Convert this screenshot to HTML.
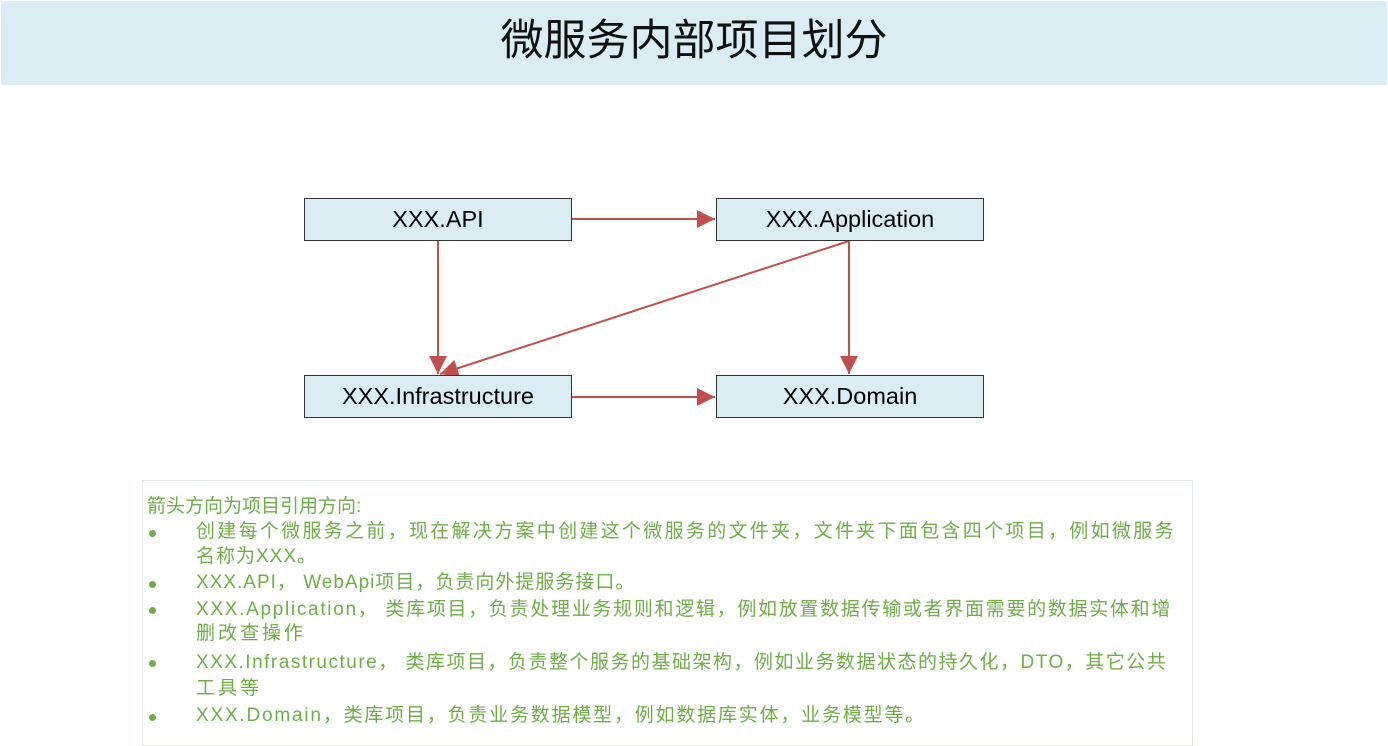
<!DOCTYPE html>
<html><head><meta charset="utf-8"><style>
body{margin:0;width:1388px;height:746px;background:#fff;position:relative;overflow:hidden;font-family:"Liberation Sans","Noto Sans CJK SC",sans-serif}
.hdr{position:absolute;left:1px;top:1px;width:1386px;height:84px;background:#daedf3}
.title{position:absolute;left:0;width:1388px;top:13px;text-align:center;font-size:43px;color:#111;line-height:56px}
.box{position:absolute;width:266px;height:41px;background:#daedf3;border:1px solid #333;text-align:center;font-size:23.5px;line-height:41px;color:#000}
.tb{position:absolute;left:142px;top:480px;width:1049px;height:264px;border:1px solid #e2e8e2}
.l{position:absolute;white-space:nowrap;font-size:19px;letter-spacing:3px;color:#70ad47;line-height:24px}
.b{position:absolute;left:149px;width:7px;height:7px;border-radius:50%;background:#70ad47}
</style></head><body>
<div class="hdr"></div>
<div class="title">微服务内部项目划分</div>
<svg width="1388" height="746" style="position:absolute;left:0;top:0">
<defs>
<marker id="m" viewBox="0 0 10 10" refX="10" refY="5" markerWidth="24" markerHeight="18" orient="auto" markerUnits="userSpaceOnUse"><path d="M0,0L10,5L0,10z" fill="#c0504d"/></marker></defs>
<g stroke="#c0504d" stroke-width="2" fill="none">
<line x1="572" y1="219" x2="715" y2="219" marker-end="url(#m)"/>
<line x1="438" y1="241" x2="438" y2="374" marker-end="url(#m)"/>
<line x1="849" y1="241" x2="849" y2="374" marker-end="url(#m)"/>
<line x1="849" y1="241" x2="440" y2="374" marker-end="url(#m)"/>
<line x1="572" y1="397" x2="715" y2="397" marker-end="url(#m)"/>
</g></svg>
<div class="box" style="left:304px;top:198px">XXX.API</div>
<div class="box" style="left:716px;top:198px">XXX.Application</div>
<div class="box" style="left:304px;top:375px">XXX.Infrastructure</div>
<div class="box" style="left:716px;top:375px">XXX.Domain</div>
<div class="tb"></div>
<div class="l" style="left:147px;top:495px;letter-spacing:0">箭头方向为项目引用方向:</div>
<div class="b" style="top:530px"></div>
<div class="l" style="left:196px;top:520px;letter-spacing:2.3px">创建每个微服务之前，现在解决方案中创建这个微服务的文件夹，文件夹下面包含四个项目，例如微服务</div>
<div class="l" style="left:196px;top:545px;letter-spacing:1px">名称为XXX。</div>
<div class="b" style="top:581px"></div>
<div class="l" style="left:196px;top:571px;letter-spacing:1px">XXX.API， WebApi项目，负责向外提服务接口。</div>
<div class="b" style="top:607px"></div>
<div class="l" style="left:196px;top:598px;letter-spacing:1.7px">XXX.Application， 类库项目，负责处理业务规则和逻辑，例如放置数据传输或者界面需要的数据实体和增</div>
<div class="l" style="left:196px;top:622px">删改查操作</div>
<div class="b" style="top:660px"></div>
<div class="l" style="left:196px;top:651px;letter-spacing:1.5px">XXX.Infrastructure， 类库项目，负责整个服务的基础架构，例如业务数据状态的持久化，DTO，其它公共</div>
<div class="l" style="left:196px;top:677px">工具等</div>
<div class="b" style="top:714px"></div>
<div class="l" style="left:196px;top:704px;letter-spacing:1.8px">XXX.Domain，类库项目，负责业务数据模型，例如数据库实体，业务模型等。</div>
</body></html>
